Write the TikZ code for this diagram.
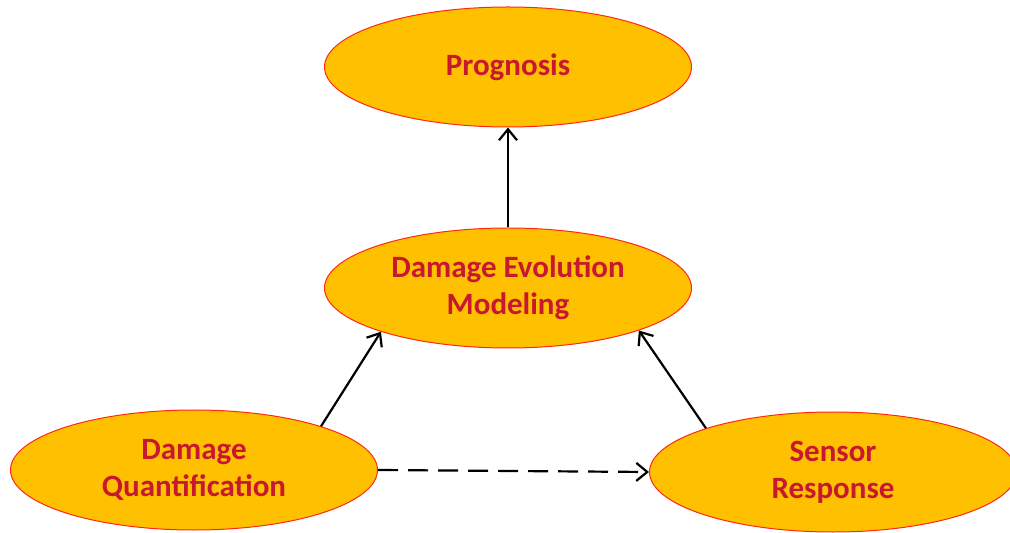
\documentclass[tikz,border=0pt]{standalone}
\usepackage{fontspec}
\setmainfont{Carlito}
\usetikzlibrary{shapes.geometric,arrows.meta}
\definecolor{fillgold}{RGB}{255,192,0}
\definecolor{txtred}{RGB}{200,24,48}
\definecolor{edgered}{RGB}{255,40,20}
\tikzset{
  bubble/.style={ellipse, draw=edgered, line width=0.5pt, fill=fillgold,
    minimum width=183.5pt, minimum height=60pt, inner sep=0pt,
    text=txtred, align=center, font=\fontsize{15.5}{18.5}\selectfont\bfseries},
  link/.style={line width=1.1pt, -{Straight Barb[length=5.5pt,width=9pt,line width=1.1pt]}},
}
\begin{document}
\begin{tikzpicture}[x=0.5pt,y=-0.5pt]
\useasboundingbox (0,0) rectangle (1010,533);
\node[bubble] (p) at (508,67) {\raisebox{-1.5pt}{Prognosis}};
\node[bubble] (e) at (508,288) {Damage Evolution\\Modeling};
\node[bubble] (q) at (194,470) {Damage\\Quantification};
\node[bubble] (s) at (833,472) {Sensor\\Response};
\draw[link] (e) -- (p);
\draw[link] (q.19) -- (e.199);
\draw[link] (s.161) -- (e.342);
\draw[link, dash pattern=on 10pt off 5pt] (q.east) -- (s.west);
\end{tikzpicture}
\end{document}
